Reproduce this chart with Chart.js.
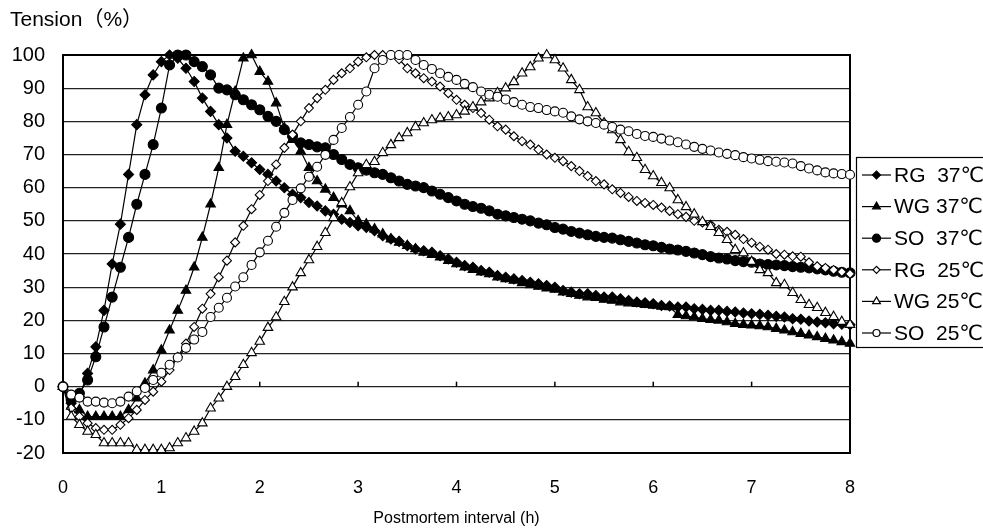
<!DOCTYPE html>
<html><head><meta charset="utf-8">
<script src="https://cdn.jsdelivr.net/npm/chart.js@4.4.0/dist/chart.umd.min.js"></script>
<style>html,body{margin:0;padding:0;background:#fff;overflow:hidden}</style>
</head><body>
<canvas id="c" width="983" height="529" style="width:983px;height:529px;display:block"></canvas>
<script>
// time axis in minutes (5-minute sampling)
const minutes = [0,5,10,15,20,25,30,35,40,45,50,55,60,65,70,75,80,85,90,95,100,105,110,115,120,125,130,135,140,145,150,155,160,165,170,175,180,185,190,195,200,205,210,215,220,225,230,235,240,245,250,255,260,265,270,275,280,285,290,295,300,305,310,315,320,325,330,335,340,345,350,355,360,365,370,375,380,385,390,395,400,405,410,415,420,425,430,435,440,445,450,455,460,465,470,475,480];
const xTicks = [0,1,2,3,4,5,6,7,8];
const yTicks = [-20,-10,0,10,20,30,40,50,60,70,80,90,100];
const seriesLabels = ["RG  37\u2103","WG 37\u2103","SO  37\u2103","RG  25\u2103","WG 25\u2103","SO  25\u2103"];

const rg37 = [0,-5,-3,4,12,23,37,49,64,79,88,94,98,100,99,96,92,87,83,79,75,71,69.5,67.5,65.5,64,62,60,58,57,55.5,54.5,53,52,50.5,49.5,48.5,48,47,45.5,44.5,43.8,42.5,41.5,41,40.5,39.5,38.5,37.5,36.5,36,35,34.5,33.5,33,32.5,32,31.5,31,30.5,30,29,28.5,28,28,27.5,27,27,26.5,26,25.5,25.3,25,24.5,24.3,24,24,23.5,23.3,23,23,22.7,22.5,22.2,22,21.8,21.5,21.2,21,20.5,20.3,19.8,19.5,19.3,19,18.8,18.7];
const wg37 = [0,-6,-7,-9,-9,-9,-9,-9,-7,-3.5,1,5,11,17,23,29,36,45,55,66,79,89,99,100,95,92,85.5,78,74.5,71,66,62,59.5,57,55,53,50,49,47.5,46,44.5,43.5,42.5,41.5,40.5,39.8,39,38,37,36,35.3,34.5,34,33,32.5,32,31.3,30.7,30.2,29.7,29.3,28.5,28,27.5,27,26.8,26.3,26,25.5,25.2,25,24.7,24.5,24.2,24,21.7,21.3,21,20.5,20.2,20,19.5,19,18.7,18.5,18.3,18,17.5,17,16.5,16,15.5,15,14.5,14,13.5,13];
const so37 = [0,-4,-2,2,9,18,27,36,45,55,64,73,84,97,100,100,98,96.5,94,90,89.5,88,86.5,85,83.5,81.5,80,77.5,75.5,73.5,73,72.3,72,70,68.5,67,66,65.3,64.5,64,63,62,61,60.5,60,59,58,57,56,55,54.3,53.8,53,52,51.5,51,50.5,50,49.3,48.8,48,47.5,46.8,46.3,45.8,45.3,45,44.8,44.3,43.8,43.3,42.8,42.5,42,41.5,41.2,40.8,40.3,39.8,39.2,38.8,38.5,38,37.7,37.5,37,36.8,36.7,36.5,36.2,36,35.8,35.5,35.2,34.8,34.5,34.3];
const rg25 = [0,-6.5,-9,-11,-12.5,-13,-13,-11.5,-9.5,-7,-4,-1.5,1.5,5,9,13,18,23.5,28,33,38,43.5,48.5,53.5,57.8,62,67,72,76,80,84,87,89.5,92.5,94.5,96,98,99.3,100,100,100,98.7,96,94.5,93,92,90.5,88.5,86.5,85,84,82.5,80.5,78.5,77.5,75.5,74,73,71.5,70,69,68,66.5,65,63.5,62,61,59.5,58.4,57.2,56,55.4,54.8,54,53,52,51.2,50,49.5,48.8,47.3,46.7,45.8,44.5,43.4,42.2,41.3,40,39.8,39.3,39.2,37.5,36.3,35.8,35.2,34.6,34];
const wg25 = [0,-9,-11.5,-13.5,-14.5,-17,-17,-17,-17,-19,-19,-19,-19,-18.5,-17,-15.5,-13.5,-11,-6.5,-3.5,0,3,6.6,10.2,13.6,17.8,21,25.6,30,34.3,38.2,42.2,46.4,50.9,55.4,60.2,64.4,66.9,67.8,70.5,72.9,75,76.5,78.3,79.5,80.4,81,81.3,81.9,83,84.3,85.8,87,88.6,90,91.9,94.5,96.4,99,100,98.5,96,92.5,89.5,84.3,82.5,79.5,77.4,74.4,70.8,69,65.4,63.5,61.5,59.9,56.3,54.2,52,49.7,48.2,46.4,44.3,41.3,40.3,37.7,35.2,34.3,31.3,30.7,28.3,26.2,24.7,23.8,22.3,21.1,19.6,18.7];
const so25 = [0,-2.4,-3.3,-4.5,-4.5,-4.8,-5,-4.5,-3,-1.4,-0.4,2,4.2,6.6,8.8,11.7,14.2,16.5,21,23.8,26.8,30.2,33,36.7,40.5,44,48.2,52.4,56.3,59.8,63.3,66.3,69.9,74.4,78,81.3,85,89,96,98.5,100,100,100,98.5,97,95.8,94.5,93.4,92.5,91.3,90.3,89,88,87.4,86.6,85.8,85,84.3,84,83.4,83,82.6,81.5,80.6,80,79.5,79,78.3,77.5,77,76.2,75.6,75.3,74.8,74.2,73.7,73,72.3,71.7,71.2,70.6,70.2,69.8,69.2,68.8,68.4,68,67.8,67.6,67.3,66.5,65.8,65.2,64.6,64.3,64.1,63.9];

const FONT = '"Liberation Sans", Arial, "DejaVu Sans", sans-serif';
const styles = [
  {pointStyle:'rectRot', fill:'#000', r:5},
  {pointStyle:'triangle', fill:'#000', r:5.5},
  {pointStyle:'circle', fill:'#000', r:5},
  {pointStyle:'rectRot', fill:'#fff', r:4.5},
  {pointStyle:'triangle', fill:'#fff', r:5.5},
  {pointStyle:'circle', fill:'#fff', r:4.5},
];
const allSeries = [rg37, wg37, so37, rg25, wg25, so25];
const datasets = allSeries.map((vals, i) => ({
  label: seriesLabels[i],
  data: minutes.map((m, j) => ({x: m / 60, y: vals[j]})),
  borderColor: '#000', borderWidth: 1.2,
  pointStyle: styles[i].pointStyle,
  pointRadius: styles[i].r,
  pointBackgroundColor: styles[i].fill,
  pointBorderColor: '#000', pointBorderWidth: 1.1,
  tension: 0, clip: false,
  order: 5 - i
}));

const framePlugin = {
  id: 'frame',
  beforeDatasetsDraw(chart) {
    const {ctx, chartArea: a, scales} = chart;
    ctx.save();
    ctx.strokeStyle = '#000'; ctx.lineWidth = 1.5;
    const y0 = scales.y.getPixelForValue(0);
    xTicks.slice(1, -1).forEach(t => {
      const x = scales.x.getPixelForValue(t);
      ctx.beginPath(); ctx.moveTo(x, y0); ctx.lineTo(x, y0 - 5); ctx.stroke();
    });
    ctx.lineWidth = 2;
    ctx.strokeRect(a.left, a.top, a.right - a.left, a.bottom - a.top);
    ctx.restore();
  },
  afterDraw(chart) {
    const {ctx} = chart;
    ctx.save();
    ctx.fillStyle = '#000';
    ctx.font = '21px ' + FONT + ', "Noto Sans CJK JP"';
    ctx.textBaseline = 'middle'; ctx.textAlign = 'left';
    ctx.fillText('Tension\uFF08%\uFF09', 10, 20);
    ctx.strokeStyle = '#000'; ctx.lineWidth = 1.2;
    ctx.strokeRect(856.5, 157.5, 200, 190);
    chart.data.datasets.forEach((ds, i) => {
      const y = 175 + i * 31.6;
      ctx.strokeStyle = '#000'; ctx.lineWidth = 1.2;
      ctx.beginPath(); ctx.moveTo(862, y); ctx.lineTo(891, y); ctx.stroke();
      ctx.fillStyle = ds.pointBackgroundColor; ctx.strokeStyle = '#000';
      Chart.helpers.drawPoint(ctx, {pointStyle: ds.pointStyle, radius: ds.pointRadius - 1, borderWidth: 1, rotation: 0}, 876.5, y);
      ctx.fillStyle = '#000';
      ctx.font = '21px ' + FONT;
      ctx.fillText(ds.label, 894, y + 1);
    });
    ctx.restore();
  }
};

new Chart(document.getElementById('c'), {
  type: 'line',
  data: {datasets},
  options: {
    responsive: false, animation: false, devicePixelRatio: 1,
    layout: {padding: {top: 55, right: 133, left: 0, bottom: 0}},
    plugins: {legend: {display: false}, tooltip: {enabled: false}},
    scales: {
      x: {
        type: 'linear', min: 0, max: 8,
        afterBuildTicks: s => { s.ticks = xTicks.map(v => ({value: v})); },
        afterFit: s => { s.height = 76; },
        ticks: {color: '#000', font: {size: 18, family: FONT}, padding: 24, maxRotation: 0},
        grid: {display: false, drawTicks: false},
        border: {display: false},
        title: {display: true, text: 'Postmortem interval (h)', color: '#000', font: {size: 16, family: FONT}, padding: {top: 0, bottom: 1}}
      },
      y: {
        type: 'linear', min: -20, max: 100,
        afterBuildTicks: s => { s.ticks = yTicks.map(v => ({value: v})); },
        afterFit: s => { s.width = 63; },
        ticks: {color: '#000', font: {size: 20, family: FONT}, padding: 18},
        grid: {color: '#222', lineWidth: 1.2, drawTicks: false},
        border: {display: false}
      }
    }
  },
  plugins: [framePlugin]
});
</script>
</body></html>
